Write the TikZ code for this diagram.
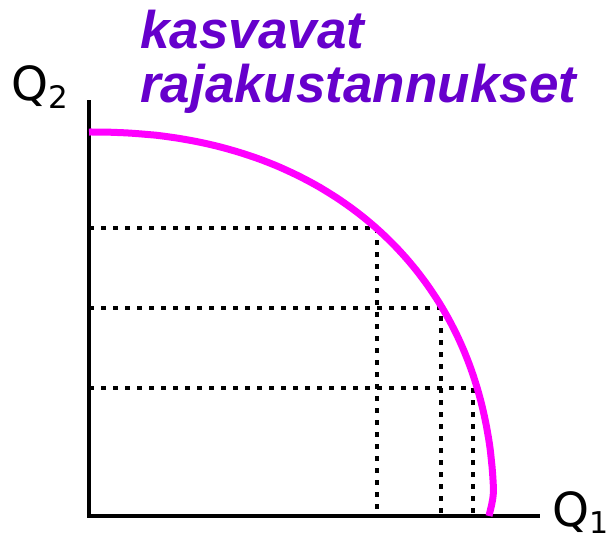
\documentclass[tikz,border=0pt]{standalone}
\usepackage{fontspec}
\setmainfont{DejaVu Sans}
\newfontfamily\titlefont{Liberation Sans}
\definecolor{titlepurple}{RGB}{102,0,204}
\definecolor{curvemagenta}{RGB}{255,0,255}
\begin{document}
\begin{tikzpicture}[x=1pt,y=-1pt,
  axis/.style={line width=4.5pt},
  guide/.style={line width=4.5pt, dash pattern=on 4.5pt off 7.5pt},
  ppf/.style={line width=7pt, color=curvemagenta},
  title/.style={anchor=base west, inner sep=0pt, text=titlepurple, font=\titlefont\fontsize{53}{53}\selectfont\bfseries\itshape},
  axlabel/.style={anchor=base west, inner sep=0pt, font=\fontsize{47}{47}\selectfont}]
\useasboundingbox (0,0) rectangle (610,542);
% axes
\coordinate (top) at (89,100);
\coordinate (bottom) at (89,518);
\coordinate (left) at (87,516);
\coordinate (right) at (540,516);
\draw[axis] (top) -- (bottom);
\draw[axis] (left) -- (right);
% points on curve
\coordinate (pA) at (377,228);
\coordinate (pB) at (441,308);
\coordinate (pC) at (473,388);
\coordinate (aA) at (89,228);
\coordinate (aB) at (89,308);
\coordinate (aC) at (89,388);
\coordinate (bA) at (377,514);
\coordinate (bB) at (441,514);
\coordinate (bC) at (473,514);
\draw[guide] (aA) -- (pA) -- (bA);
\draw[guide] (aB) -- (pB) -- (bB);
\draw[guide] (aC) -- (pC) -- (bC);
% curve
\coordinate (cstart) at (89,132);
\coordinate (cend) at (489,516);
\draw[ppf] (cstart) -- plot[domain=89.8:5, samples=90, variable=\t]
  ({89+405*(cos(\t))^(0.909)}, {516-384*(sin(\t))^(0.909)})
  .. controls (494,495) .. (cend);
% labels
\node[title] (t1) at (140,48) {kasvavat};
\node[title] (t2) at (140,102) {rajakustannukset};
\node[axlabel] (q2) at (11,100) {Q\raisebox{-8pt}{\fontsize{31}{31}\selectfont 2}};
\node[axlabel] (q1) at (552,526) {Q\raisebox{-7pt}{\fontsize{30}{30}\selectfont 1}};
\end{tikzpicture}
\end{document}
